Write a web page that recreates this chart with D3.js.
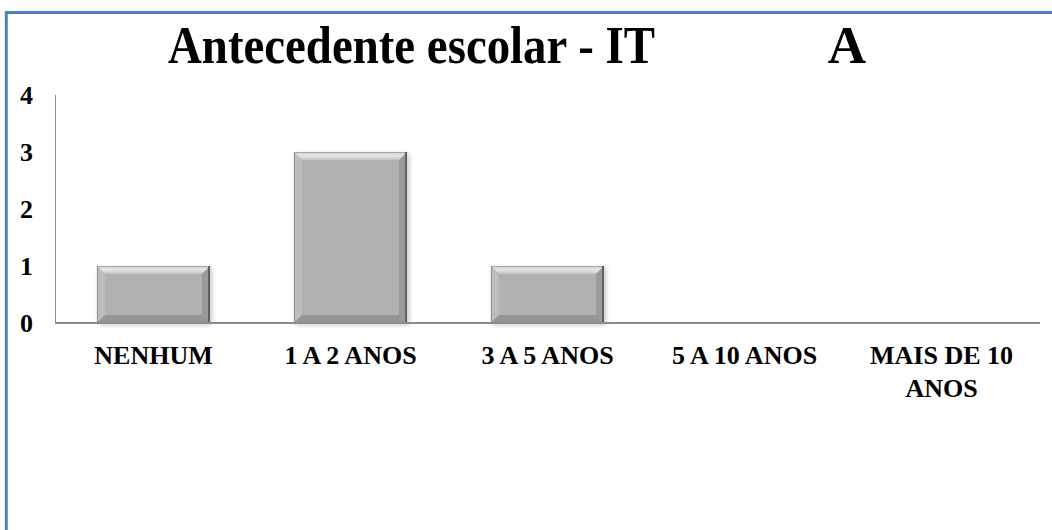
<!DOCTYPE html>
<html>
<head>
<meta charset="utf-8">
<script src="https://cdn.jsdelivr.net/npm/d3@7"></script>
<style>
  html, body { margin: 0; padding: 0; background: #fff; }
  svg { display: block; }
</style>
</head>
<body>
<svg id="chart" width="1052" height="530"></svg>
<script>
(function () {
  "use strict";

  // data
  var categories = ["NENHUM", "1 A 2 ANOS", "3 A 5 ANOS", "5 A 10 ANOS", "MAIS DE 10 ANOS"];
  var values = [1, 3, 1, 0, 0];
  var yTicks = [0, 1, 2, 3, 4];
  var titleMain = "Antecedente escolar - IT";
  var titleTail = "A";

  var FONT = "'Liberation Serif'";

  var svg = d3.select("#chart");
  var W = 1052, H = 530;

  // frame (blue border, only top and left visible)
  svg.append("line")
    .attr("x1", 6.3).attr("x2", W).attr("y1", 12.5).attr("y2", 12.5)
    .attr("stroke", "#4f81bd").attr("stroke-width", 3);
  svg.append("line")
    .attr("x1", 6.3).attr("x2", 6.3).attr("y1", 11).attr("y2", H)
    .attr("stroke", "#4f81bd").attr("stroke-width", 3);

  function label(sel) {
    return sel.style("font-family", FONT).style("font-weight", "bold").attr("fill", "#000");
  }

  // title
  label(svg.append("text"))
    .attr("x", 168).attr("y", 63)
    .attr("font-size", 53)
    .attr("textLength", 487).attr("lengthAdjust", "spacingAndGlyphs")
    .text(titleMain);
  label(svg.append("text"))
    .attr("x", 847).attr("y", 63)
    .attr("text-anchor", "middle")
    .attr("font-size", 53)
    .text(titleTail);

  var pLeft = 55, pRight = 1040, pTop = 95, pBottom = 323;

  var x = d3.scaleBand()
    .domain(categories)
    .range([pLeft, pRight])
    .paddingInner(0.426)
    .paddingOuter(0.213);

  var y = d3.scaleLinear()
    .domain([0, 4])
    .range([pBottom, pTop]);

  // y axis line
  svg.append("line")
    .attr("x1", pLeft + 0.5).attr("x2", pLeft + 0.5)
    .attr("y1", pTop).attr("y2", pBottom)
    .attr("stroke", "#8c8c8c").attr("stroke-width", 1);

  // y tick labels
  label(svg.selectAll(".ytick")
    .data(yTicks)
    .enter().append("text")
    .attr("class", "ytick"))
    .attr("x", 33)
    .attr("y", function (d) { return y(d) + 9; })
    .attr("text-anchor", "end")
    .attr("font-size", 26)
    .text(function (d) { return d; });

  // shadow filter
  var defs = svg.append("defs");
  var f = defs.append("filter").attr("id", "shadow")
    .attr("x", "-10%").attr("y", "-10%").attr("width", "130%").attr("height", "130%");
  f.append("feGaussianBlur").attr("in", "SourceAlpha").attr("stdDeviation", 2.5);
  f.append("feOffset").attr("dx", 2).attr("dy", 2).attr("result", "b");
  f.append("feComponentTransfer").append("feFuncA").attr("type", "linear").attr("slope", 0.22);
  var m = f.append("feMerge");
  m.append("feMergeNode");
  m.append("feMergeNode").attr("in", "SourceGraphic");

  // top bevel gradient
  var lg = defs.append("linearGradient").attr("id", "topBevel")
    .attr("x1", 0).attr("x2", 0).attr("y1", 0).attr("y2", 1);
  lg.append("stop").attr("offset", "0%").attr("stop-color", "#d0d0d0");
  lg.append("stop").attr("offset", "50%").attr("stop-color", "#e6e6e6");
  lg.append("stop").attr("offset", "100%").attr("stop-color", "#c2c2c2");

  // bars with bevel
  var bev = 8;
  var bars = svg.selectAll(".bar")
    .data(values.map(function (v, i) { return { cat: categories[i], v: v }; })
      .filter(function (d) { return d.v > 0; }))
    .enter().append("g")
    .attr("class", "bar")
    .attr("filter", "url(#shadow)");

  bars.each(function (d) {
    var g = d3.select(this);
    var x0 = x(d.cat), x1 = x0 + x.bandwidth();
    var y0 = y(d.v), y1 = y(0);
    g.append("rect")
      .attr("x", x0).attr("y", y0).attr("width", x1 - x0).attr("height", y1 - y0)
      .attr("fill", "#b1b1b1");
    // top bevel
    g.append("polygon")
      .attr("points", [[x0, y0], [x1, y0], [x1 - bev, y0 + bev], [x0 + bev, y0 + bev]].join(" "))
      .attr("fill", "url(#topBevel)");
    // left bevel
    g.append("polygon")
      .attr("points", [[x0, y0], [x0 + bev, y0 + bev], [x0 + bev, y1 - bev], [x0, y1]].join(" "))
      .attr("fill", "#bdbdbd");
    // right bevel
    g.append("polygon")
      .attr("points", [[x1, y0], [x1, y1], [x1 - bev, y1 - bev], [x1 - bev, y0 + bev]].join(" "))
      .attr("fill", "#9a9a9a");
    // bottom bevel
    g.append("polygon")
      .attr("points", [[x0, y1], [x1, y1], [x1 - bev, y1 - bev], [x0 + bev, y1 - bev]].join(" "))
      .attr("fill", "#959595");
    // edges
    g.append("line")
      .attr("x1", x0).attr("x2", x1).attr("y1", y0 + 0.5).attr("y2", y0 + 0.5)
      .attr("stroke", "#a8a8a8").attr("stroke-width", 1);
    g.append("line")
      .attr("x1", x0 + 0.5).attr("x2", x0 + 0.5).attr("y1", y0).attr("y2", y1)
      .attr("stroke", "#8f8f8f").attr("stroke-width", 1);
    g.append("line")
      .attr("x1", x1 - 1).attr("x2", x1 - 1).attr("y1", y0).attr("y2", y1)
      .attr("stroke", "#5e5e5e").attr("stroke-width", 2);
  });

  // x axis line
  svg.append("line")
    .attr("x1", pLeft).attr("x2", pRight)
    .attr("y1", pBottom).attr("y2", pBottom)
    .attr("stroke", "#8c8c8c").attr("stroke-width", 2);

  // category labels (wrap the long one like the original)
  var labelLines = {
    "MAIS DE 10 ANOS": ["MAIS DE 10", "ANOS"]
  };
  label(svg.selectAll(".xlab")
    .data(categories)
    .enter().append("text")
    .attr("class", "xlab"))
    .attr("text-anchor", "middle")
    .attr("font-size", 26)
    .each(function (d) {
      var lines = labelLines[d] || [d];
      var t = d3.select(this);
      var cx = x(d) + x.bandwidth() / 2;
      lines.forEach(function (ln, i) {
        t.append("tspan")
          .attr("x", cx)
          .attr("y", 364 + i * 33)
          .text(ln);
      });
    });
})();
</script>
</body>
</html>
